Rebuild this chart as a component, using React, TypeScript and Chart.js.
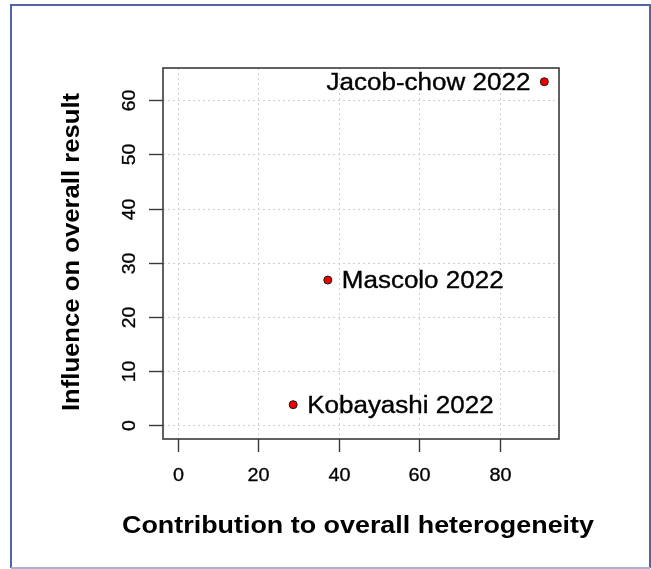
import React, { useEffect, useRef } from "react";
import { Chart, registerables } from "chart.js";

Chart.register(...registerables);

// Study-level values for the Baujat-style diagnostic plot
const studies = ["Jacob-chow 2022", "Mascolo 2022", "Kobayashi 2022"];
const heterogeneity = [91.1, 37.3, 28.7];
const influence = [63.4, 26.8, 3.8];
const labelSide = ["left", "right", "right"];

const xTicks = [0, 20, 40, 60, 80];
const yTicks = [0, 10, 20, 30, 40, 50, 60];

const xTitle = "Contribution to overall heterogeneity";
const yTitle = "Influence on overall result";

const W = 651;
const H = 569;
const FONT = '"Liberation Sans", Arial, Helvetica, sans-serif';

// axis limits: 0..max with a 4% margin on each side
const pad = (lo: number, hi: number) => {
  const e = (hi - lo) * 0.04;
  return [lo - e, hi + e];
};
const [xMin, xMax] = pad(0, Math.max(...heterogeneity));
const [yMin, yMax] = pad(0, Math.max(...influence));

function drawText(
  ctx: CanvasRenderingContext2D,
  text: string,
  x: number,
  y: number,
  size: number,
  opts: { bold?: boolean; sx?: number; rot?: number; align?: CanvasTextAlign; weight?: number } = {}
) {
  const { bold = false, sx = 1, rot = 0, align = "center", weight = 0 } = opts;
  ctx.save();
  ctx.translate(x, y);
  if (rot) ctx.rotate(rot);
  ctx.scale(sx, 1);
  ctx.font = `${bold ? "bold " : ""}${size}px ${FONT}`;
  ctx.textAlign = align;
  ctx.textBaseline = "alphabetic";
  ctx.fillStyle = "#000";
  ctx.fillText(text, 0, size * 0.358);
  if (weight > 0) {
    ctx.lineWidth = weight;
    ctx.strokeStyle = "#000";
    ctx.strokeText(text, 0, size * 0.358);
  }
  ctx.restore();
}

const framePlugin = {
  id: "baujatFrame",
  beforeDraw(chart: any) {
    const ctx: CanvasRenderingContext2D = chart.ctx;
    ctx.save();
    ctx.fillStyle = "#fff";
    ctx.fillRect(0, 0, W, H);
    ctx.lineWidth = 2;
    ctx.strokeStyle = "#4f66a5";
    ctx.beginPath();
    ctx.moveTo(11, 568);
    ctx.lineTo(11, 5);
    ctx.lineTo(650, 5);
    ctx.lineTo(650, 568);
    ctx.stroke();
    ctx.strokeStyle = "#a9b2d2";
    ctx.beginPath();
    ctx.moveTo(11, 568);
    ctx.lineTo(650, 568);
    ctx.stroke();
    ctx.restore();
  },
  beforeDatasetsDraw(chart: any) {
    const ctx: CanvasRenderingContext2D = chart.ctx;
    const { left, right, top, bottom } = chart.chartArea;
    const xs = chart.scales.x;
    const ys = chart.scales.y;

    // dotted grid
    ctx.save();
    ctx.strokeStyle = "#cfcfcf";
    ctx.lineWidth = 1;
    ctx.setLineDash([2, 3]);
    xTicks.forEach((v) => {
      const px = Math.round(xs.getPixelForValue(v)) + 0.5;
      ctx.beginPath();
      ctx.moveTo(px, top);
      ctx.lineTo(px, bottom);
      ctx.stroke();
    });
    yTicks.forEach((v) => {
      const py = Math.round(ys.getPixelForValue(v)) + 0.5;
      ctx.beginPath();
      ctx.moveTo(left, py);
      ctx.lineTo(right, py);
      ctx.stroke();
    });
    ctx.restore();

    // box and tick marks
    ctx.save();
    ctx.strokeStyle = "#3a3a3a";
    ctx.lineWidth = 1.6;
    ctx.strokeRect(left, top, right - left, bottom - top);
    ctx.lineWidth = 1.4;
    xTicks.forEach((v) => {
      const px = Math.round(xs.getPixelForValue(v)) + 0.5;
      ctx.beginPath();
      ctx.moveTo(px, bottom);
      ctx.lineTo(px, bottom + 13);
      ctx.stroke();
      drawText(ctx, String(v), px, 475, 18, { sx: 1.1, weight: 0.3 });
    });
    yTicks.forEach((v) => {
      const py = Math.round(ys.getPixelForValue(v)) + 0.5;
      ctx.beginPath();
      ctx.moveTo(left, py);
      ctx.lineTo(left - 14, py);
      ctx.stroke();
      drawText(ctx, String(v), 129, py, 18, { sx: 1.08, rot: -Math.PI / 2, weight: 0.3 });
    });
    ctx.restore();

    // axis titles
    drawText(ctx, xTitle, 358, 524, 24, { bold: true, sx: 1.12 });
    drawText(ctx, yTitle, 70, 252, 24, {
      bold: true,
      sx: 1.07,
      rot: -Math.PI / 2,
    });
  },
  afterDatasetsDraw(chart: any) {
    const ctx: CanvasRenderingContext2D = chart.ctx;
    const xs = chart.scales.x;
    const ys = chart.scales.y;
    studies.forEach((name, i) => {
      const px = xs.getPixelForValue(heterogeneity[i]);
      const py = ys.getPixelForValue(influence[i]);
      const leftSide = labelSide[i] === "left";
      drawText(ctx, name, leftSide ? px - 14 : px + 14, py, 23, {
        sx: 1.13,
        align: leftSide ? "right" : "left",
        weight: 0.35,
      });
    });
  },
};

export default function App() {
  const canvasRef = useRef<HTMLCanvasElement | null>(null);

  useEffect(() => {
    const canvas = canvasRef.current;
    if (!canvas) return;
    const chart = new Chart(canvas, {
      type: "scatter",
      data: {
        datasets: [
          {
            data: heterogeneity.map((x, i) => ({ x, y: influence[i] })),
            pointRadius: 4,
            pointHoverRadius: 4,
            pointBackgroundColor: "#ee0000",
            pointBorderColor: "#1a1a1a",
            pointBorderWidth: 1,
          },
        ],
      },
      options: {
        responsive: false,
        animation: false,
        events: [],
        layout: { padding: { top: 68, right: 92, left: 0, bottom: 0 } },
        plugins: {
          legend: { display: false },
          tooltip: { enabled: false },
        },
        scales: {
          x: {
            type: "linear",
            min: xMin,
            max: xMax,
            ticks: { display: false },
            grid: { display: false },
            border: { display: false },
            afterFit: (s: any) => {
              s.height = 130;
            },
          },
          y: {
            type: "linear",
            min: yMin,
            max: yMax,
            ticks: { display: false },
            grid: { display: false },
            border: { display: false },
            afterFit: (s: any) => {
              s.width = 163;
            },
          },
        },
      },
      plugins: [framePlugin],
    });
    return () => chart.destroy();
  }, []);

  return (
    <div style={{ position: "absolute", left: 0, top: 0, width: W, height: H, background: "#fff" }}>
      <canvas ref={canvasRef} width={W} height={H} style={{ display: "block" }} />
    </div>
  );
}
